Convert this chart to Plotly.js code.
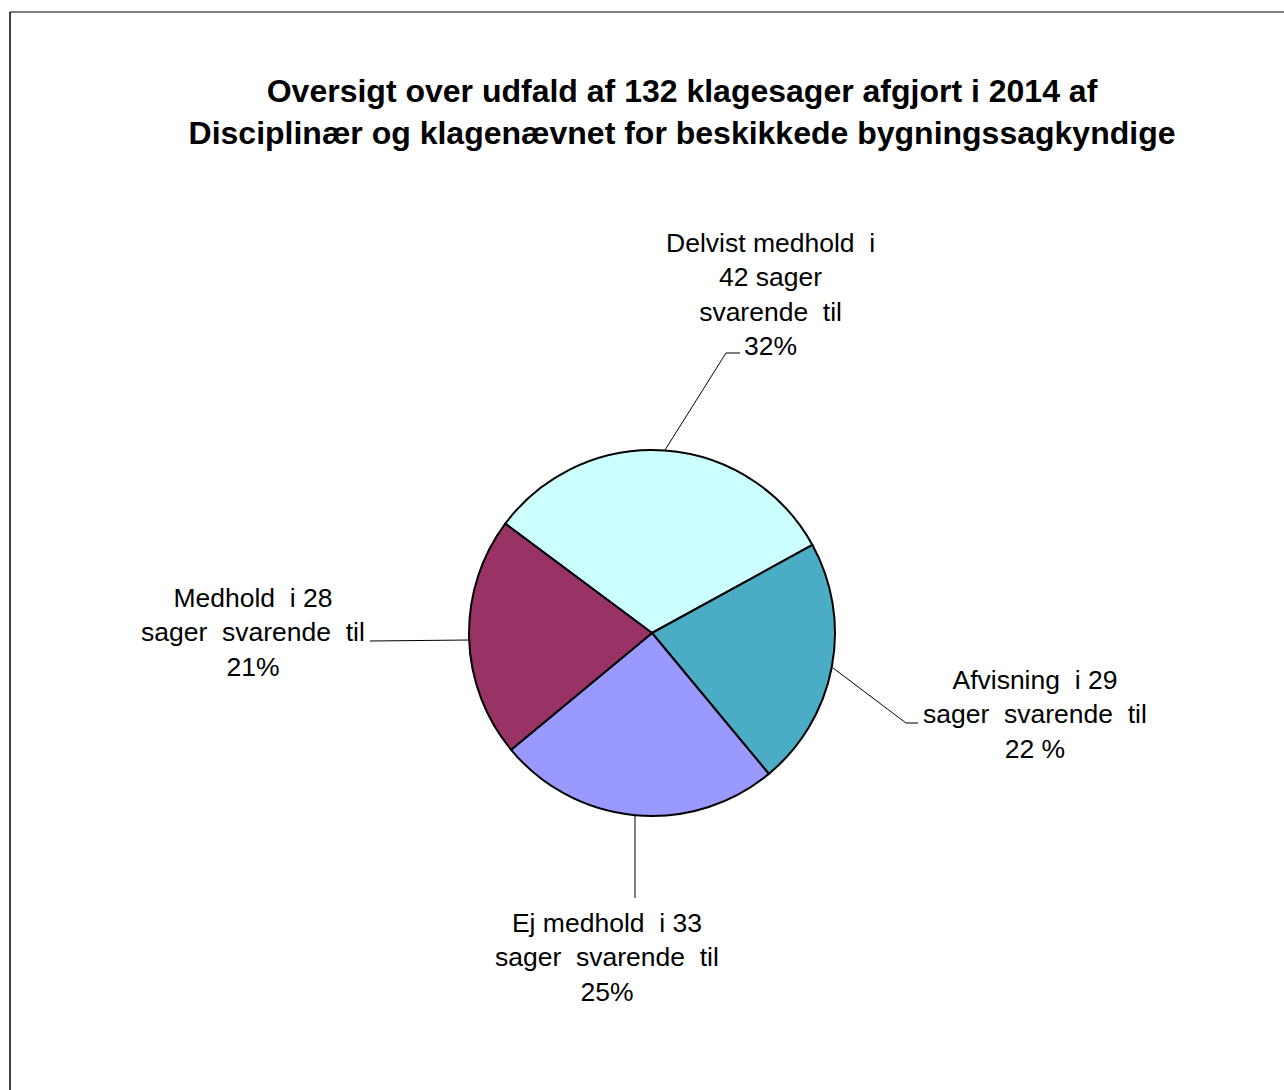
<!DOCTYPE html>
<html>
<head>
<meta charset="utf-8">
<script src="https://cdn.plot.ly/plotly-3.0.1.min.js"></script>
<style>
html,body{margin:0;padding:0;background:#fff;}
#chart{width:1284px;height:1090px;}
</style>
</head>
<body>
<div id="chart"></div>
<script>
const categories = ["Delvist medhold", "Afvisning", "Ej medhold", "Medhold"];
const cases = [42, 29, 33, 28];
const percents = ["32%", "22 %", "25%", "21%"];
const colors = ["#CCFFFF", "#4BACC6", "#9999FF", "#993366"];

const W = 1284, H = 1090;
const px = x => x / W;
const py = y => 1 - y / H;
const S = "\u00A0";

const labelTexts = [
  "Delvist medhold" + S + " i<br>" + cases[0] + " sager<br>svarende" + S + " til<br>" + percents[0],
  "Afvisning" + S + " i " + cases[1] + "<br>sager" + S + " svarende" + S + " til<br>" + percents[1],
  "Ej medhold" + S + " i " + cases[2] + "<br>sager" + S + " svarende" + S + " til<br>" + percents[2],
  "Medhold" + S + " i " + cases[3] + "<br>sager" + S + " svarende" + S + " til<br>" + percents[3]
];
const labelPos = [[770, 294], [1035, 714], [607, 957], [253, 632]];

const annotations = labelTexts.map((t, i) => ({
  text: t, xref: "paper", yref: "paper",
  x: px(labelPos[i][0]), y: py(labelPos[i][1]),
  xanchor: "center", yanchor: "middle", showarrow: false, align: "center",
  font: {family: "Liberation Sans, Arial, sans-serif", size: 26.5, color: "#000"}
}));

const leaderPaths = [
  [[665, 450], [726, 353], [740, 353]],
  [[833, 668], [906, 723], [918, 723]],
  [[635, 816], [635, 898]],
  [[469, 640], [370, 641]]
];
const shapes = leaderPaths.map(p => ({
  type: "path", xref: "paper", yref: "paper",
  path: p.map((q, j) => (j ? "L" : "M") + px(q[0]) + "," + py(q[1])).join(" "),
  line: {color: "#000", width: 1}
}));
shapes.push({type: "line", xref: "paper", yref: "paper", x0: px(10), y0: py(12), x1: 1.01, y1: py(12), line: {color: "#555", width: 1.5}});
shapes.push({type: "line", xref: "paper", yref: "paper", x0: px(10), y0: py(12), x1: px(10), y1: -0.01, line: {color: "#000", width: 1.5}});

const cx = 652, cy = 633, r = 183;
const trace = {
  type: "pie",
  labels: categories,
  values: cases,
  sort: false,
  direction: "clockwise",
  rotation: -53.3,
  textinfo: "none",
  hoverinfo: "label+value+percent",
  marker: {colors: colors, line: {color: "#000", width: 2}},
  domain: {x: [px(cx - r), px(cx + r)], y: [py(cy + r), py(cy - r)]},
  showlegend: false
};

const layout = {
  width: W, height: H,
  margin: {l: 0, r: 0, t: 0, b: 0},
  paper_bgcolor: "#fff",
  showlegend: false,
  title: {
    text: "<b>Oversigt over udfald af 132 klagesager afgjort i 2014 af<br>Disciplinær og klagenævnet for beskikkede bygningssagkyndige</b>",
    xref: "paper", yref: "paper", x: px(682), xanchor: "center",
    y: py(102), yanchor: "middle",
    font: {family: "Liberation Sans, Arial, sans-serif", size: 32, color: "#000"}
  },
  annotations: annotations,
  shapes: shapes
};

Plotly.newPlot("chart", [trace], layout, {staticPlot: true, displayModeBar: false});
</script>
</body>
</html>
